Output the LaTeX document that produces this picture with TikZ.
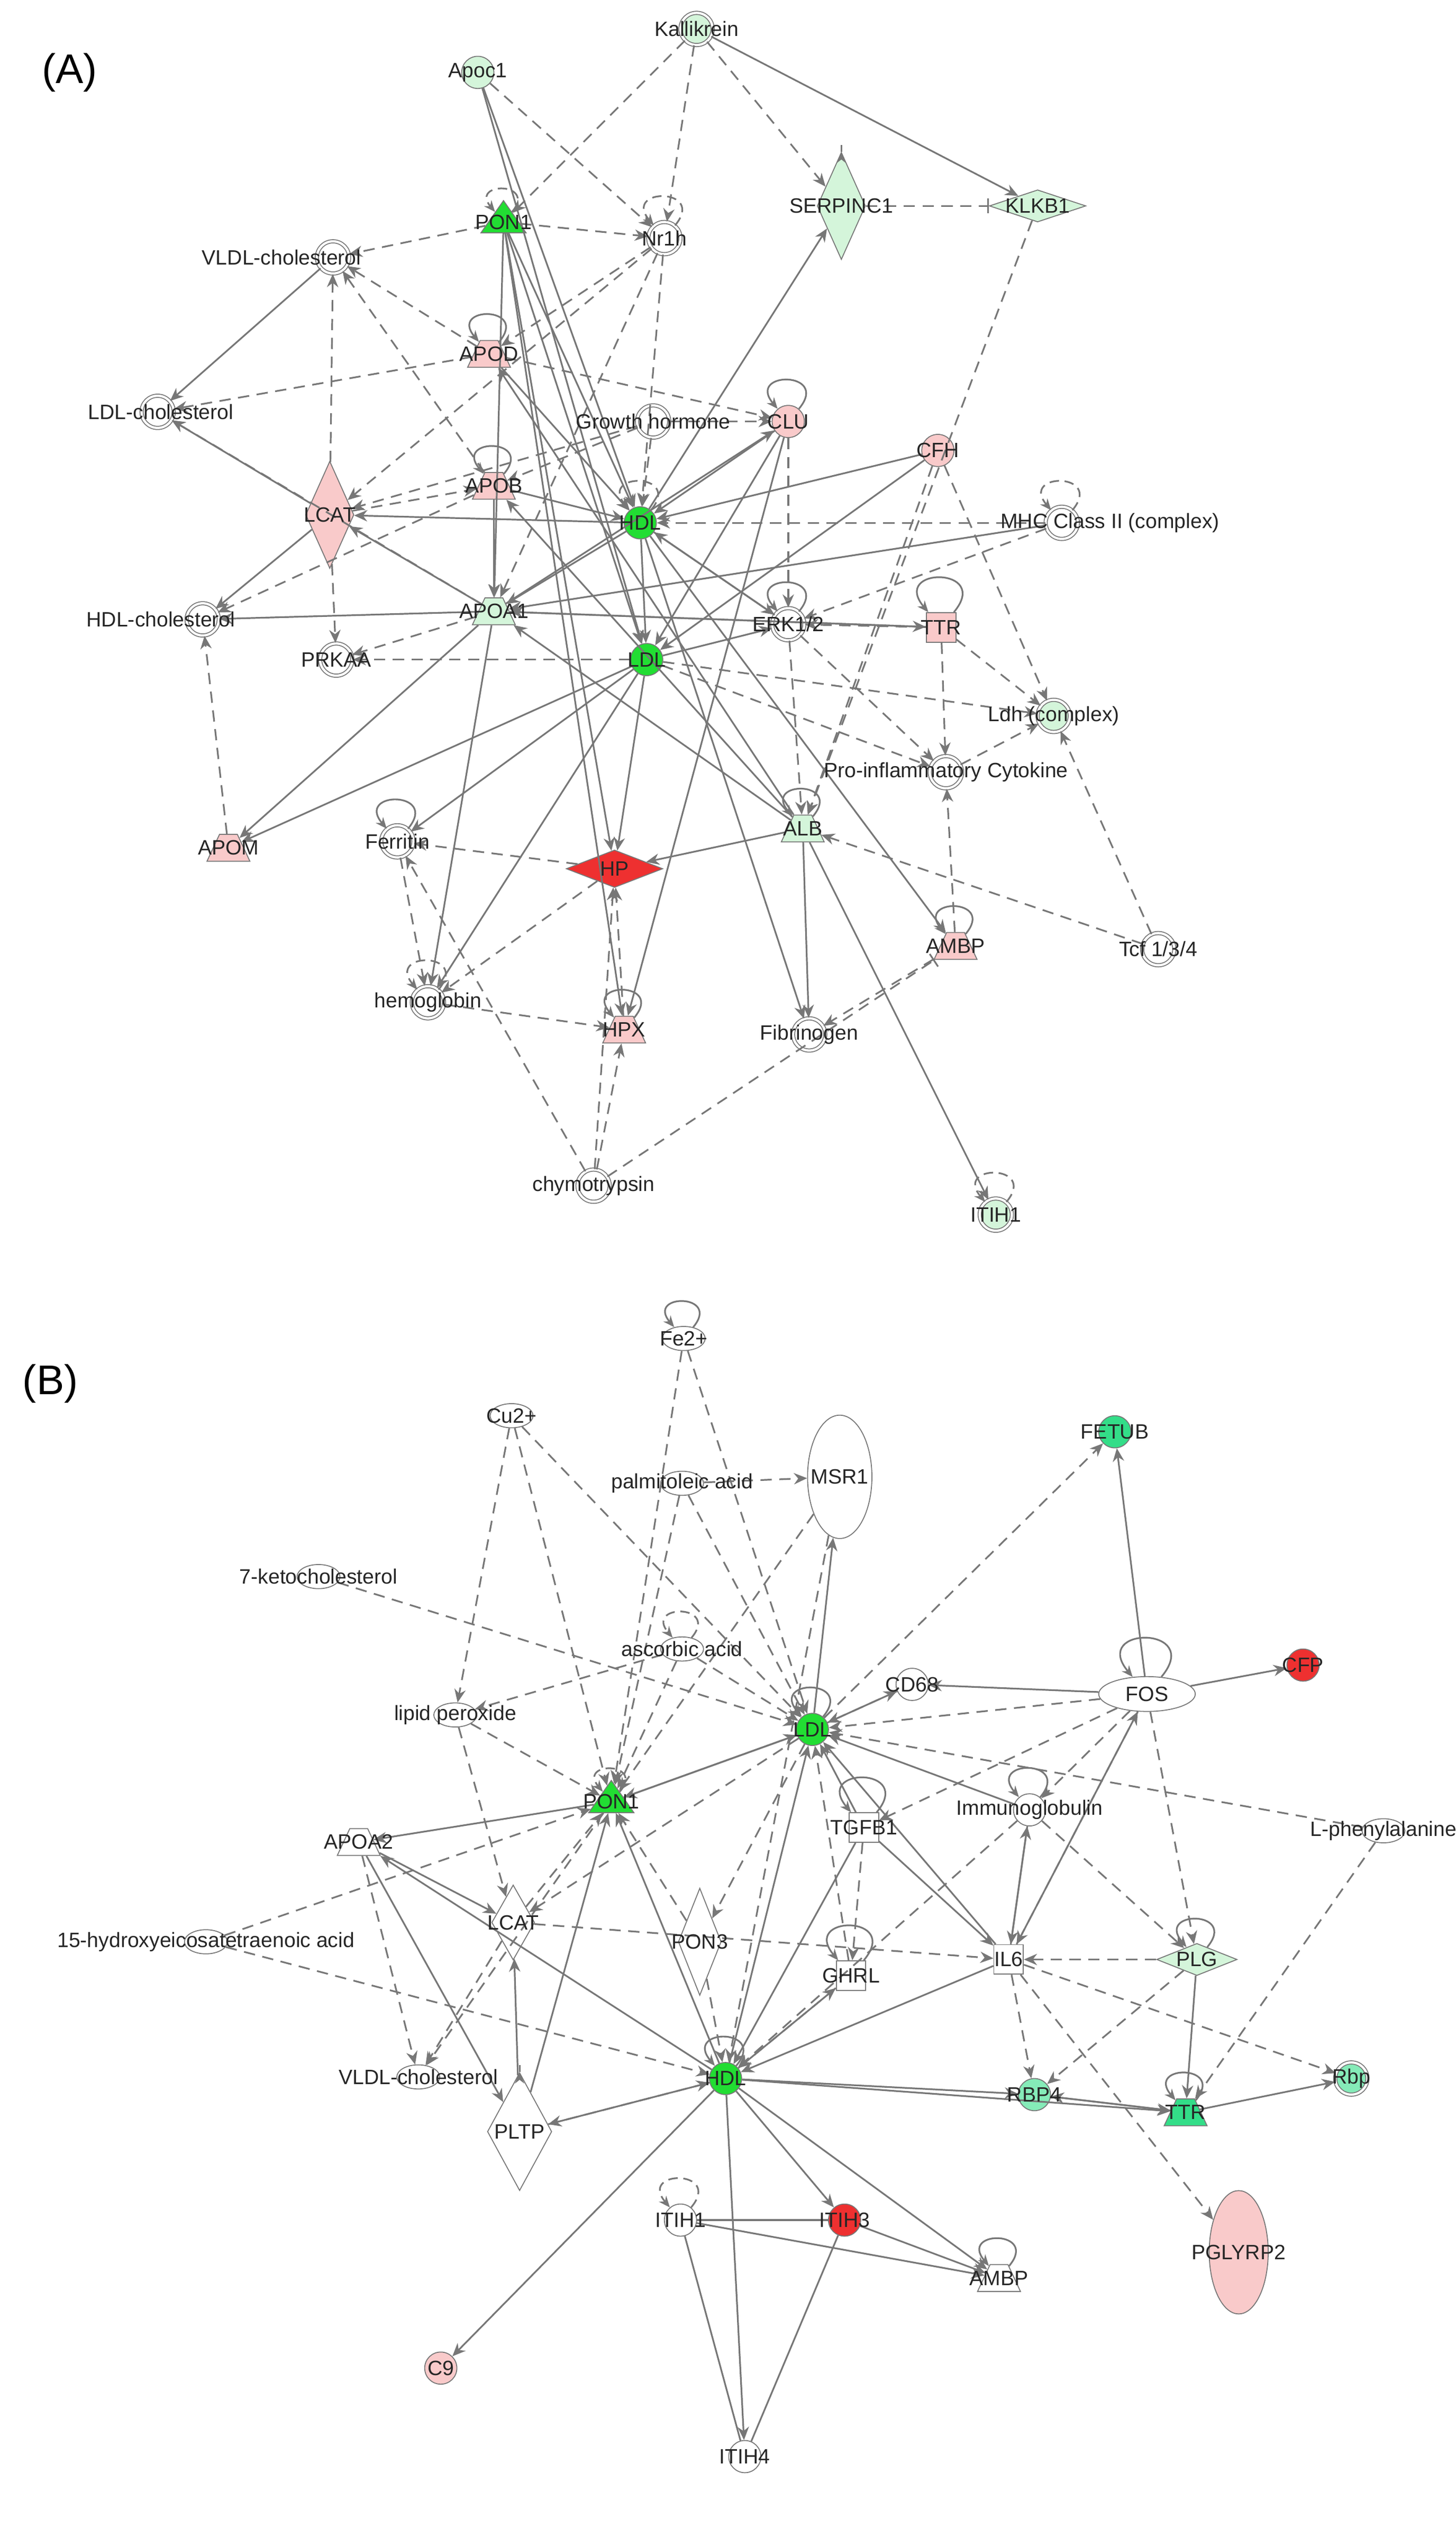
\documentclass[tikz,border=0pt]{standalone}
\usepackage{fontspec}
\setmainfont{Liberation Sans}
\usetikzlibrary{shapes.geometric,arrows.meta}
\definecolor{gA}{HTML}{22DD33}
\definecolor{lg}{HTML}{D4F5DA}
\definecolor{pk}{HTML}{F9CACA}
\definecolor{rd}{HTML}{EE3030}
\definecolor{tg}{HTML}{33DD88}
\definecolor{ln}{HTML}{777777}
\begin{document}
\begin{tikzpicture}[x=0.03cm,y=-0.03cm,
 sh/.style={draw=ln,line width=0.5pt,inner sep=0pt},
 cir/.style={sh,circle,minimum size=0.6cm},
 dc/.style={cir,double=white,double distance=1.2pt,fill=white},
 tri/.style={sh,isosceles triangle,shape border rotate=90,minimum size=0.6cm,isosceles triangle apex angle=70,inner sep=2pt},
 tra/.style={sh,trapezium,trapezium left angle=65,trapezium right angle=65,minimum height=0.5cm,inner xsep=2pt,inner ysep=3pt},
 wdia/.style={sh,diamond,minimum width=1.3cm,minimum height=0.6cm},
 sq/.style={sh,rectangle,minimum size=0.55cm},
 ell/.style={sh,ellipse,minimum width=0.8cm,minimum height=0.45cm},
 lab/.style={font=\fontsize{11}{12}\selectfont,text=black!85,inner sep=0pt},
 act/.style={draw=ln,line width=0.9pt,-{Stealth[length=7pt,width=6pt]}},
 dact/.style={act,dash pattern=on 6pt off 4pt},
 dbar/.style={draw=ln,line width=0.9pt,dash pattern=on 6pt off 4pt,-{Bar[width=8pt]}},
 slf/.style={draw=ln,line width=0.9pt,-{Stealth[length=6pt,width=5pt]},looseness=6,out=50,in=130},
 dslf/.style={slf,dash pattern=on 5pt off 3pt}]
\useasboundingbox (0,0) rectangle (905,1577);
\node[font=\fontsize{22}{24}\selectfont,anchor=west] at (22,45) {(A)};
\node[font=\fontsize{22}{24}\selectfont,anchor=west] at (10,860) {(B)};
% ---------- Panel A nodes
\node[dc,fill=lg] (akal) at (433,18) {};
\node[cir,fill=lg] (aapoc) at (297,45) {};
\node[tri,fill=gA] (apon) at (313,138) {};
\node[sh,diamond,fill=lg,minimum width=0.9cm,minimum height=2cm] (aserp) at (523,128) {};
\node[wdia,fill=lg,minimum width=1.8cm] (aklk) at (645,128) {};
\node[dc] (anr) at (413,148) {};
\node[dc] (avldl) at (207,160) {};
\node[tra,fill=pk] (aapod) at (304,220) {};
\node[dc] (aldlc) at (98,256) {};
\node[dc] (agh) at (406,262) {};
\node[cir,fill=pk] (aclu) at (490,262) {};
\node[cir,fill=pk] (acfh) at (583,280) {};
\node[tra,fill=pk] (aapob) at (307,302) {};
\node[sh,diamond,fill=pk,minimum width=0.9cm,minimum height=2cm] (alcat) at (205,320) {};
\node[dc] (amhc) at (660,325) {};
\node[cir,fill=gA] (ahdl) at (398,325) {};
\node[dc] (ahdlc) at (126,385) {};
\node[tra,fill=lg] (aapoa) at (307,380) {};
\node[dc] (aerk) at (490,388) {};
\node[sq,fill=pk] (attr) at (585,390) {};
\node[dc] (aprk) at (209,410) {};
\node[cir,fill=gA] (aldl) at (402,410) {};
\node[dc,fill=lg] (aldh) at (655,445) {};
\node[dc] (apro) at (588,480) {};
\node[tra,fill=lg] (aalb) at (499,515) {};
\node[tra,fill=pk] (aapom) at (142,527) {};
\node[dc] (afer) at (247,523) {};
\node[wdia,fill=rd,minimum width=1.8cm,minimum height=0.7cm] (ahp) at (382,540) {};
\node[tra,fill=pk] (aambp) at (594,588) {};
\node[dc] (atcf) at (720,590) {};
\node[dc] (ahem) at (266,623) {};
\node[tra,fill=pk] (ahpx) at (388,640) {};
\node[dc] (afib) at (503,643) {};
\node[dc] (achy) at (369,737) {};
\node[dc,fill=lg] (aitih) at (619,755) {};
% ---------- Panel A edges
\foreach \a/\b in {akal/aklk,aapoc/ahdl,aapoc/aldl,apon/ahdl,apon/aldl,apon/aapoa,apon/ahpx,apon/ahp,avldl/aldlc,alcat/aldlc,alcat/ahdlc,aapoa/alcat,ahdl/alcat,ahdl/aserp,ahdl/aapoa,aldl/aapom,aldl/afer,aldl/ahem,aldl/ahp,aclu/ahdl,aclu/aldl,acfh/ahdl,acfh/aldl,amhc/aapoa,aapoa/ahdlc,aapoa/aapom,aalb/ahp,aalb/aitih,aalb/afib,aalb/aapob,aalb/aapoa,ahdl/afib,ahdl/aerk,aapoa/ahem,attr/aapoa,aldl/aerk,ahdl/aldl,aapob/ahdl,aapod/ahdl,aapoa/aclu,aapoa/attr,ahdl/aambp,aapob/aapoa,aclu/ahpx,aalb/aapod,aerk/ahdl}
 \draw[act] (\a) -- (\b);
\foreach \a/\b in {akal/aserp,akal/anr,akal/apon,aapoc/anr,apon/avldl,apon/anr,anr/aapod,anr/alcat,anr/aapoa,anr/ahdl,aklk/aalb,aapod/avldl,aapod/aldlc,aapod/aclu,agh/aclu,agh/aapob,agh/ahdl,agh/alcat,alcat/avldl,alcat/aprk,alcat/aapob,aapom/ahdlc,aapob/ahdlc,aapob/avldl,aapoa/aldlc,aapoa/aprk,aldl/aprk,aclu/aerk,amhc/ahdl,amhc/aerk,attr/aldh,attr/apro,attr/aerk,aldl/aldh,aldl/apro,apro/aldh,aerk/apro,atcf/aalb,atcf/aldh,acfh/aalb,aambp/apro,aambp/afib,afer/ahem,ahp/afer,ahpx/ahp,ahem/ahpx,achy/ahp,achy/ahpx,achy/afer,acfh/aldh,aerk/aalb,ahp/ahem}
 \draw[dact] (\a) -- (\b);
\draw[dbar] (aserp) -- (aklk);
\draw[dbar] (achy) -- (aambp);
\draw[slf,looseness=9,out=40,in=140] (aserp.north) to (aserp.north);
\foreach \n in {aapod,aclu,aerk,attr,aalb,afer,aambp,ahpx,aapob} \draw[slf] (\n) to (\n);
\foreach \n in {anr,amhc,ahem,aitih,apon,ahdl} \draw[dslf] (\n) to (\n);
% ---------- Panel A labels
\foreach \p/\t in {akal/Kallikrein,aapoc/Apoc1,apon/PON1,aserp/SERPINC1,aklk/KLKB1,anr/Nr1h,aapod/APOD,agh/Growth hormone,aclu/CLU,acfh/CFH,aapob/APOB,alcat/LCAT,ahdl/HDL,aapoa/APOA1,attr/TTR,aprk/PRKAA,aldl/LDL,aalb/ALB,aapom/APOM,afer/Ferritin,ahp/HP,aambp/AMBP,ahem/hemoglobin,ahpx/HPX,afib/Fibrinogen,achy/chymotrypsin,aitih/ITIH1}
 \node[lab] at (\p) {\t};
\node[lab] at (aerk) {ERK1/2};
\node[lab] at (atcf) {Tcf 1/3/4};
\node[lab] at (175,160) {VLDL-cholesterol};
\node[lab] at (100,256) {LDL-cholesterol};
\node[lab] at (100,385) {HDL-cholesterol};
\node[lab] at (690,325) {MHC Class II (complex)};
\node[lab] at (655,445) {Ldh (complex)};
\node[lab] at (588,480) {Pro-inflammatory Cytokine};
% ---------- Panel B nodes
\node[ell,fill=white] (bfe) at (425,832) {};
\node[ell,fill=white] (bcu) at (318,880) {};
\node[ell,fill=white] (bpal) at (424,922) {};
\node[sh,ellipse,fill=white,minimum width=1.2cm,minimum height=2.3cm] (bmsr) at (522,918) {};
\node[cir,fill=tg] (bfet) at (693,890) {};
\node[ell,fill=white] (bket) at (198,980) {};
\node[ell,fill=white] (basc) at (424,1025) {};
\node[ell,fill=white] (blip) at (283,1066) {};
\node[cir,fill=white] (bcd) at (567,1047) {};
\node[sh,ellipse,fill=white,minimum width=1.8cm,minimum height=0.65cm] (bfos) at (713,1053) {};
\node[cir,fill=rd] (bcfp) at (810,1035) {};
\node[cir,fill=gA] (bldl) at (505,1075) {};
\node[tri,fill=gA] (bpon) at (380,1120) {};
\node[sq,fill=white] (btgf) at (537,1136) {};
\node[cir,fill=white] (bimm) at (640,1125) {};
\node[ell,fill=white] (bphe) at (860,1138) {};
\node[tra,fill=white] (bapoa) at (223,1145) {};
\node[ell,fill=white] (bhyd) at (128,1207) {};
\node[sh,diamond,fill=white,minimum width=0.8cm,minimum height=1.4cm] (blcat) at (319,1195) {};
\node[sh,diamond,fill=white,minimum width=0.8cm,minimum height=2cm] (bpon3) at (435,1207) {};
\node[sq,fill=white] (bghrl) at (529,1228) {};
\node[sq,fill=white] (bil6) at (627,1218) {};
\node[wdia,fill=lg,minimum width=1.5cm] (bplg) at (744,1218) {};
\node[ell,fill=white] (bvldl) at (260,1291) {};
\node[cir,fill=gA] (bhdl) at (451,1292) {};
\node[cir,fill=tg!60] (brbp4) at (643,1302) {};
\node[tra,fill=tg] (bttr) at (737,1313) {};
\node[dc,fill=tg!60] (brbp) at (840,1292) {};
\node[sh,diamond,fill=white,minimum width=1.2cm,minimum height=2.2cm] (bpltp) at (323,1325) {};
\node[cir,fill=white] (bitih1) at (423,1380) {};
\node[cir,fill=rd] (bitih3) at (525,1380) {};
\node[tra,fill=white] (bambp) at (621,1416) {};
\node[sh,ellipse,fill=pk,minimum width=1.1cm,minimum height=2.3cm] (bpgl) at (770,1400) {};
\node[cir,fill=pk] (bc9) at (274,1472) {};
\node[cir,fill=white] (bitih4) at (463,1527) {};
% ---------- Panel B edges
\foreach \a/\b in {bfos/bfet,bfos/bcfp,bfos/bcd,bldl/bmsr,bpon/bldl,bldl/bpon,bpon/bapoa,bapoa/bpltp,bhdl/bapoa,bhdl/bpon,bhdl/bc9,bhdl/bttr,bhdl/brbp4,bhdl/bitih3,bhdl/bitih4,bhdl/bambp,bhdl/bpltp,bpltp/bpon,bpltp/blcat,bttr/brbp,brbp4/bttr,bttr/brbp4,bplg/bttr,bil6/bldl,bil6/bfos,bitih3/bambp,bitih1/bambp,bhdl/bldl,btgf/bldl,btgf/bil6,bil6/bhdl,bimm/bil6,bldl/bcd,bhdl/bghrl,bapoa/blcat,bil6/bimm,btgf/bhdl,bimm/bldl}
 \draw[act] (\a) -- (\b);
\draw[draw=ln,line width=0.9pt] (bitih1) -- (bitih3);
\draw[draw=ln,line width=0.9pt] (bitih1) -- (bitih4);
\draw[draw=ln,line width=0.9pt] (bitih3) -- (bitih4);
\foreach \a/\b in {bfe/bpon,bfe/bldl,bcu/bpon,bcu/bldl,bcu/blip,bpal/bpon,bpal/bldl,bpal/bmsr,bket/bldl,basc/bpon,basc/bldl,basc/blip,blip/blcat,blip/bpon,bldl/bfet,bcd/bldl,bimm/bplg,bfos/bldl,bfos/bimm,bfos/bil6,bfos/btgf,bphe/bldl,bphe/bttr,bhyd/bhdl,bhyd/bpon,bapoa/bvldl,blcat/bvldl,blcat/bpon,blcat/bil6,bpon3/bpon,bpon3/bhdl,bghrl/bhdl,bghrl/bldl,bil6/brbp4,bil6/bpgl,bplg/bil6,bil6/brbp,btgf/bghrl,bpltp/bhdl,bldl/bpon3,bmsr/bhdl,bplg/brbp4,bfos/bplg,bmsr/bpon,bpon/bvldl,bldl/blcat,bimm/bhdl}
 \draw[dact] (\a) -- (\b);
\foreach \n in {bfe,bldl,btgf,bimm,bfos,bplg,bhdl,bttr,bambp,bghrl} \draw[slf] (\n) to (\n);
\foreach \n in {basc,bpon,bitih1} \draw[dslf] (\n) to (\n);
\draw[dslf,looseness=5] (bpltp.north) to (bpltp.north);
% ---------- Panel B labels
\foreach \p/\t in {bfe/Fe2+,bcu/Cu2+,bpal/palmitoleic acid,bmsr/MSR1,bfet/FETUB,bket/7-ketocholesterol,basc/ascorbic acid,blip/lipid peroxide,bcd/CD68,bfos/FOS,bcfp/CFP,bldl/LDL,bpon/PON1,btgf/TGFB1,bimm/Immunoglobulin,bphe/L-phenylalanine,bapoa/APOA2,bhyd/15-hydroxyeicosatetraenoic acid,blcat/LCAT,bpon3/PON3,bghrl/GHRL,bil6/IL6,bplg/PLG,bvldl/VLDL-cholesterol,bhdl/HDL,brbp4/RBP4,bttr/TTR,brbp/Rbp,bpltp/PLTP,bitih1/ITIH1,bitih3/ITIH3,bambp/AMBP,bpgl/PGLYRP2,bc9/C9,bitih4/ITIH4}
 \node[lab] at (\p) {\t};
\end{tikzpicture}
\end{document}
